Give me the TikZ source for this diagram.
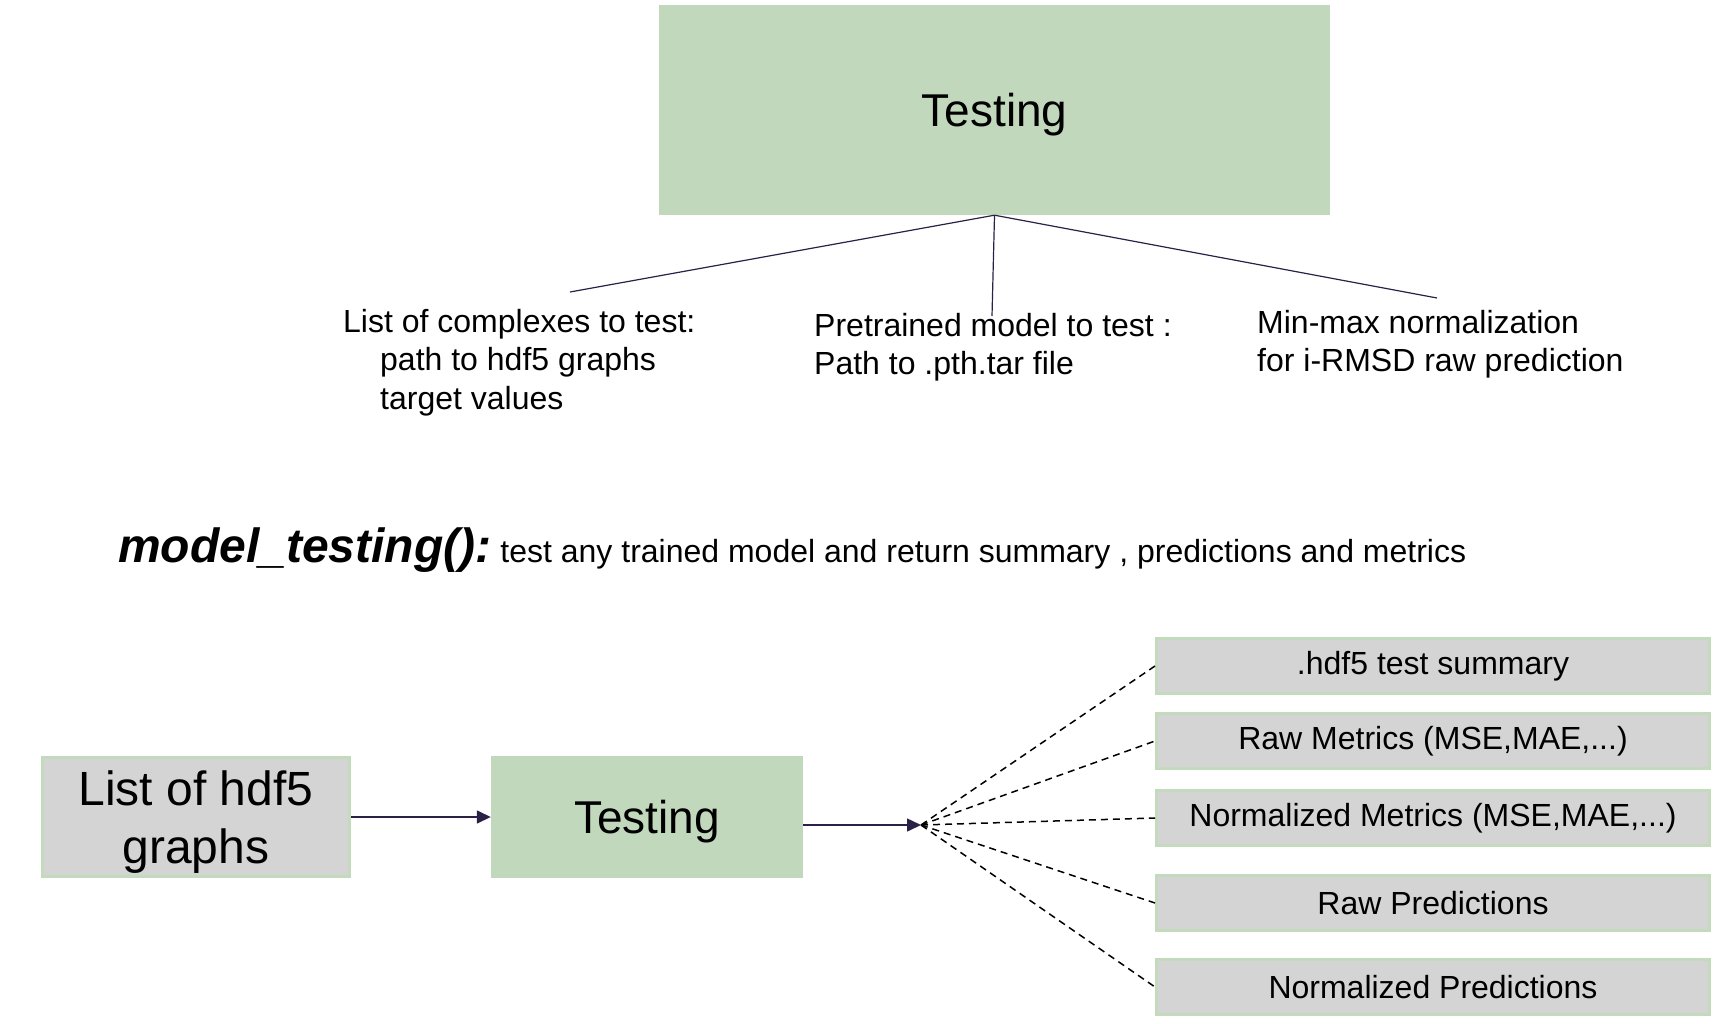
\documentclass[tikz,border=0pt]{standalone}
\usepackage{fontspec}
\setmainfont{Liberation Sans}
\usetikzlibrary{arrows.meta}

\definecolor{sage}{HTML}{C1D8BC}
\definecolor{sageedge}{HTML}{C3DABD}
\definecolor{boxgray}{HTML}{D4D4D4}
\definecolor{ink}{HTML}{2B2146}

\begin{document}
\begin{tikzpicture}[x=1pt, y=1pt,
    greenbox/.style={fill=sage, inner sep=0pt, align=center, text depth=0pt},
    graybox/.style={fill=boxgray, draw=sageedge, line width=3pt, inner sep=0pt, align=center},
    notetext/.style={anchor=north west, inner sep=0pt, align=left, font=\fontsize{32}{38.5}\selectfont},
    flow/.style={draw=ink, line width=1.5pt, -{Triangle[length=14pt, width=13pt]}},
    spread/.style={draw=black, line width=1.5pt, dash pattern=on 7pt off 5pt}]

        \useasboundingbox (0, 0) rectangle (1718, -1024);

        % upper part
        \node[greenbox, minimum width=671pt, minimum height=210pt, font=\fontsize{46}{55}\selectfont] at (994.5, -110)  (top)    {Testing};

        \coordinate (cplx)  at (570, -292);
        \coordinate (model) at (992, -316);
        \coordinate (norm)  at (1437, -298);

        \draw[ink, line width=1.2pt]  (top.south) -- (cplx);
        \draw[ink, line width=1.2pt]  (top.south) -- (model);
        \draw[ink, line width=1.2pt]  (top.south) -- (norm);

        \node[notetext] at (343, -309)   (cplxtxt)  {List of complexes to test:\\\hspace*{37pt}path to hdf5 graphs\\\hspace*{37pt}target values};
        \node[notetext] at (814, -313)   (modeltxt) {Pretrained model to test :\\Path to .pth.tar file};
        \node[notetext] at (1257, -310)  (normtxt)  {Min-max normalization\\for i-RMSD raw prediction};

        % title line
        \node[anchor=base west, inner sep=0pt] at (118, -562)  (title)  {{\fontsize{48}{58}\selectfont\bfseries\itshape model\_testing():}{\fontsize{32}{38}\selectfont\ test any trained model and return summary , predictions and metrics}};

        % lower part
        \node[graybox, text depth=0pt, minimum width=307pt, minimum height=119pt, font=\fontsize{48}{58}\selectfont] at (196, -817)  (hdf)   {List of hdf5\\graphs};
        \node[greenbox, minimum width=312pt, minimum height=122pt, font=\fontsize{46}{55}\selectfont] at (647, -817)  (test)  {Testing};

        \coordinate (hub) at (921, -825);

        \draw[flow]  (hdf) -- (test);
        \draw[flow]  (test.east |- hub) -- (hub);

        \node[graybox, minimum width=553pt, minimum height=55pt, font=\fontsize{32}{38}\selectfont] at (1433, -666)  (summ)   {.hdf5 test summary};
        \node[graybox, minimum width=553pt, minimum height=55pt, font=\fontsize{32}{38}\selectfont] at (1433, -741)  (rawm)   {Raw Metrics (MSE,MAE,...)};
        \node[graybox, minimum width=553pt, minimum height=55pt, font=\fontsize{32}{38}\selectfont] at (1433, -818)  (normm)  {Normalized Metrics (MSE,MAE,...)};
        \node[graybox, minimum width=553pt, minimum height=55pt, font=\fontsize{32}{38}\selectfont] at (1433, -903)  (rawp)   {Raw Predictions};
        \node[graybox, minimum width=553pt, minimum height=55pt, font=\fontsize{32}{38}\selectfont] at (1433, -987)  (normp)  {Normalized Predictions};

        \draw[spread]  (hub) -- (summ.west);
        \draw[spread]  (hub) -- (rawm.west);
        \draw[spread]  (hub) -- (normm.west);
        \draw[spread]  (hub) -- (rawp.west);
        \draw[spread]  (hub) -- (normp.west);

    \end{tikzpicture}
\end{document}
